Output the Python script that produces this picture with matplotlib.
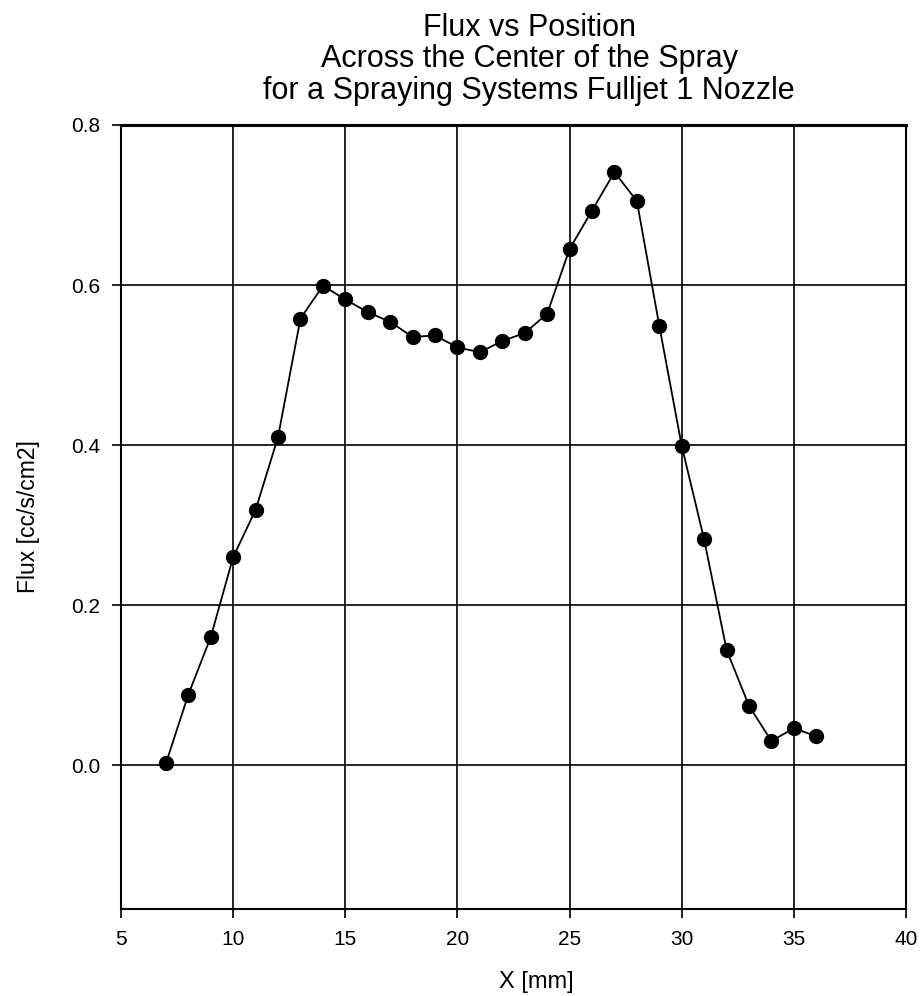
import matplotlib
matplotlib.use("Agg")
import matplotlib.pyplot as plt

# flux profile
x_mm = [7, 8, 9, 10, 11, 12, 13, 14, 15, 16, 17, 18, 19, 20, 21,
        22, 23, 24, 25, 26, 27, 28, 29, 30, 31, 32, 33, 34, 35, 36]
flux = [0.002, 0.088, 0.160, 0.260, 0.319, 0.410, 0.558, 0.599, 0.582,
        0.566, 0.554, 0.535, 0.537, 0.522, 0.516, 0.530, 0.540, 0.564,
        0.645, 0.693, 0.741, 0.705, 0.549, 0.399, 0.282, 0.144, 0.074,
        0.030, 0.046, 0.036]

x_ticks = [5, 10, 15, 20, 25, 30, 35, 40]
y_ticks = [0.0, 0.2, 0.4, 0.6, 0.8]

title = ("Flux vs Position\n"
         "Across the Center of the Spray\n"
         "for a Spraying Systems Fulljet 1 Nozzle")

plt.rcParams["font.family"] = ["Liberation Sans", "DejaVu Sans"]

fig = plt.figure(figsize=(9.24, 9.96), dpi=100)
ax = fig.add_axes([0.131, 0.0873, 0.8495, 0.7872])

ax.plot(x_mm, flux, color="black", linewidth=1.3, marker="o",
        markersize=10, markerfacecolor="black", markeredgecolor="black")

ax.set_xlim(5, 40)
ax.set_ylim(-0.18, 0.8)
ax.set_xticks(x_ticks)
ax.set_xticklabels([str(t) for t in x_ticks])
ax.set_yticks(y_ticks)
ax.set_yticklabels([f"{t:.1f}" for t in y_ticks])

ax.grid(True, color="black", linewidth=1.2)
ax.set_axisbelow(True)
for side in ax.spines.values():
    side.set_linewidth(1.5)
    side.set_color("black")
ax.spines["top"].set_linewidth(2.2)

ax.tick_params(direction="out", length=6.5, width=1.2, labelsize=15,
               pad=8.5, colors="black")

ax.set_xlabel("X [mm]", fontsize=17, labelpad=16)
ax.xaxis.label.set_x(0.529)
ax.set_ylabel("Flux [cc/s/cm2]", fontsize=16.5, labelpad=22)
ax.set_title(title, fontsize=22, pad=19, linespacing=1.06, x=0.52)

fig.savefig("out.png", dpi=100, facecolor="white")
